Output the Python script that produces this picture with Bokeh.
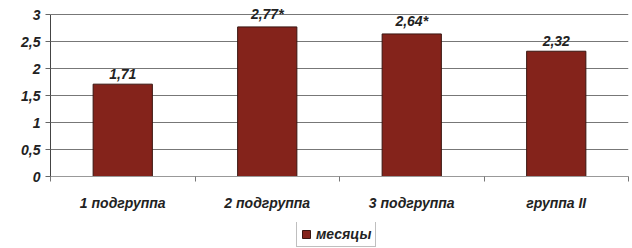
from bokeh.plotting import figure
from bokeh.layouts import column
from bokeh.models import FixedTicker, Range1d, Legend, LegendItem, ColumnDataSource, LabelSet
from bokeh.core.properties import value
from bokeh.embed import file_html
from bokeh.resources import INLINE

categories = ["1 подгруппа", "2 подгруппа", "3 подгруппа", "группа II"]
values = [1.71, 2.77, 2.64, 2.32]
value_labels = ["1,71", "2,77*", "2,64*", "2,32"]
y_ticks = [0, 0.5, 1, 1.5, 2, 2.5, 3]
y_tick_labels = ["0", "0,5", "1", "1,5", "2", "2,5", "3"]
series_name = "месяцы"

FONT = "Liberation Sans"
BAR = "#84231B"
BAR_LINE = "#3a1510"
PX_PER_UNIT = 54.0

xs = [i + 0.5 for i in range(len(categories))]
src = ColumnDataSource(dict(x=xs, top=values, lab=value_labels))

# frame extends to the top edge so value labels above y=3 are not clipped
p = figure(width=632, height=222, output_backend="svg", toolbar_location=None,
           x_range=Range1d(0, len(categories)),
           y_range=Range1d(0, y_ticks[-1] + 14 / PX_PER_UNIT))
p.min_border_left = 50
p.min_border_right = 4
p.min_border_top = 0
p.min_border_bottom = 46
p.outline_line_color = None
p.background_fill_color = "white"

r = p.vbar(x="x", top="top", width=0.41, source=src, fill_color=BAR,
           line_color=BAR_LINE, line_width=1)

labels = LabelSet(x="x", y="top", text="lab", source=src, text_align="center",
                  text_baseline="bottom", y_offset=5, text_font=value(FONT),
                  text_font_size=value("14px"), text_font_style=value("bold italic"),
                  text_color=value("#222222"))
p.add_layout(labels)

# y axis
p.yaxis.ticker = FixedTicker(ticks=y_ticks)
p.yaxis.bounds = (y_ticks[0], y_ticks[-1])
p.yaxis.major_label_overrides = {t: l for t, l in zip(y_ticks, y_tick_labels)}
p.yaxis.major_label_text_font = FONT
p.yaxis.major_label_text_font_size = "14px"
p.yaxis.major_label_text_font_style = "bold italic"
p.yaxis.major_label_text_color = "#222222"
p.yaxis.major_tick_out = 5
p.yaxis.major_tick_in = 0
p.yaxis.minor_tick_line_color = None
p.yaxis.axis_line_color = "#444444"
p.yaxis.major_tick_line_color = "#666666"
p.yaxis.major_label_standoff = 5

# x axis
p.xaxis.ticker = FixedTicker(ticks=xs, minor_ticks=list(range(len(categories) + 1)))
p.xaxis.major_label_overrides = {x: c for x, c in zip(xs, categories)}
p.xaxis.major_tick_line_color = None
p.xaxis.minor_tick_out = 5
p.xaxis.minor_tick_in = 0
p.xaxis.minor_tick_line_color = "#777777"
p.xaxis.axis_line_color = "#999999"
p.xaxis.major_label_text_font = FONT
p.xaxis.major_label_text_font_size = "14px"
p.xaxis.major_label_text_font_style = "bold italic"
p.xaxis.major_label_text_color = "#222222"
p.xaxis.major_label_standoff = 12

p.xgrid.grid_line_color = None
p.ygrid.ticker = FixedTicker(ticks=y_ticks)
p.ygrid.grid_line_color = "#777777"
p.ygrid.grid_line_width = 1

# legend strip (hidden proxy renderer supplies the swatch)
q = figure(width=632, height=26, output_backend="svg", toolbar_location=None,
           x_range=Range1d(0, len(categories)), y_range=Range1d(0, 1),
           x_axis_location=None, y_axis_location=None)
q.min_border_left = 50
q.min_border_right = 4
q.min_border_top = 0
q.min_border_bottom = 0
q.outline_line_color = None
q.xgrid.grid_line_color = None
q.ygrid.grid_line_color = None
swatch = q.vbar(x="x", top="top", width=0.41, source=src, fill_color=BAR,
                line_color=BAR_LINE, visible=False)

legend = Legend(items=[LegendItem(label=series_name, renderers=[swatch])],
                location=(246, 1), orientation="horizontal", margin=0,
                label_text_font=FONT, label_text_font_size="14px",
                label_text_font_style="bold italic", label_text_color="#222222",
                glyph_width=10, glyph_height=10, padding=4, spacing=0,
                label_height=16, label_standoff=5, border_line_color="#808080",
                background_fill_alpha=1, inactive_fill_alpha=0)
q.add_layout(legend, "center")

layout = column(p, q, spacing=0)
open("out.html", "w").write(file_html(layout, INLINE))
